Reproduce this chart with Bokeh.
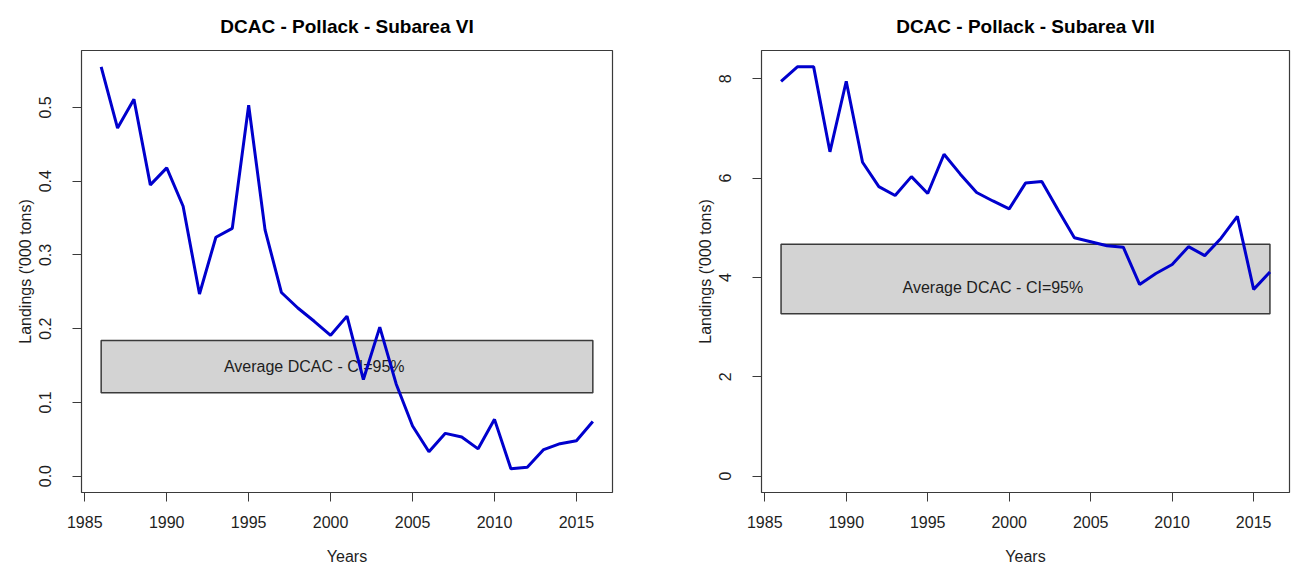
from bokeh.plotting import figure
from bokeh.layouts import row
from bokeh.models import Range1d, FixedTicker, NumeralTickFormatter
from bokeh.core.properties import value
from bokeh.embed import file_html
from bokeh.resources import INLINE

# ---- data ----
years = list(range(1986, 2017))
landings_vi = [0.555, 0.472, 0.511, 0.395, 0.418, 0.366, 0.247, 0.324, 0.336, 0.503,
               0.334, 0.249, 0.228, 0.210, 0.191, 0.217, 0.131, 0.202, 0.125, 0.068,
               0.033, 0.058, 0.053, 0.037, 0.077, 0.010, 0.012, 0.036, 0.044, 0.048, 0.074]
landings_vii = [7.95, 8.24, 8.24, 6.53, 7.95, 6.32, 5.83, 5.65, 6.03, 5.69,
                6.48, 6.08, 5.71, 5.54, 5.38, 5.90, 5.93, 5.36, 4.80, 4.72,
                4.64, 4.61, 3.86, 4.08, 4.26, 4.62, 4.44, 4.79, 5.23, 3.76, 4.11]
dcac_ci_vi = [0.113, 0.184]
dcac_ci_vii = [3.27, 4.67]
dcac_text_y_vi = 0.149
dcac_text_y_vii = 3.79
dcac_text_x = 1999
x_ticks = [1985, 1990, 1995, 2000, 2005, 2010, 2015]
y_ticks_vi = [0.0, 0.1, 0.2, 0.3, 0.4, 0.5]
y_ticks_vii = [0, 2, 4, 6, 8]
titles = ["DCAC - Pollack - Subarea VI", "DCAC - Pollack - Subarea VII"]
box_label = "Average DCAC - CI=95%"
x_label = "Years"
y_label = "Landings ('000 tons)"

FONT = "Liberation Sans"
TXT = "#1e1e1e"


def r_range(lo, hi):
    ext = (hi - lo) * 0.04
    return Range1d(lo - ext, hi + ext)


def make(title, ys, ylo, yhi, yticks, fmt, ci, text_y, width, mbl, mbr):
    p = figure(width=width, height=567,
               x_range=r_range(years[0], years[-1]),
               y_range=r_range(ylo, yhi),
               output_backend="svg", toolbar_location=None,
               min_border_left=mbl, min_border_right=mbr,
               min_border_top=50, min_border_bottom=73,
               title=title)
    p.grid.visible = False
    p.outline_line_color = "#3a3a3a"
    p.outline_line_width = 1.2
    p.background_fill_color = "white"
    p.border_fill_color = "white"

    p.title.align = "center"
    p.title.text_font = FONT
    p.title.text_font_size = "19px"
    p.title.text_font_style = "bold"
    p.title.text_color = "black"
    p.title.standoff = 27

    p.quad(left=[years[0]], right=[years[-1]], bottom=[ci[0]], top=[ci[1]],
           fill_color="#D3D3D3", line_color="#3a3a3a", line_width=1.5)
    p.text(x=[dcac_text_x], y=[text_y], text=[box_label],
           text_align="center", text_baseline="middle",
           text_font=value(FONT), text_font_size="16px", text_color=TXT)
    p.line(years, ys, line_width=3, line_color="#0000CD")

    xa = p.xaxis[0]
    xa.ticker = FixedTicker(ticks=x_ticks)
    xa.axis_line_color = None
    xa.major_tick_out = 9
    xa.major_tick_in = 0
    xa.minor_tick_line_color = None
    xa.major_tick_line_color = "#3a3a3a"
    xa.major_label_standoff = 14
    xa.major_label_text_font = FONT
    xa.major_label_text_font_size = "16px"
    xa.major_label_text_color = TXT
    xa.axis_label = x_label
    xa.axis_label_text_font = FONT
    xa.axis_label_text_font_size = "16px"
    xa.axis_label_text_font_style = "normal"
    xa.axis_label_text_color = TXT
    xa.axis_label_standoff = 17

    ya = p.yaxis[0]
    ya.ticker = FixedTicker(ticks=yticks)
    ya.formatter = NumeralTickFormatter(format=fmt)
    ya.axis_line_color = None
    ya.major_tick_out = 9
    ya.major_tick_in = 0
    ya.minor_tick_line_color = None
    ya.major_tick_line_color = "#3a3a3a"
    ya.major_label_orientation = "vertical"
    ya.major_label_standoff = 21
    ya.major_label_text_font = FONT
    ya.major_label_text_font_size = "16px"
    ya.major_label_text_color = TXT
    ya.axis_label = y_label
    ya.axis_label_text_font = FONT
    ya.axis_label_text_font_size = "16px"
    ya.axis_label_text_font_style = "normal"
    ya.axis_label_text_color = TXT
    ya.axis_label_standoff = 3
    return p


p1 = make(titles[0], landings_vi, 0, max(landings_vi), y_ticks_vi, "0.0",
          dcac_ci_vi, dcac_text_y_vi, 658, 81, 46)
p2 = make(titles[1], landings_vii, 0, max(landings_vii), y_ticks_vii, "0",
          dcac_ci_vii, dcac_text_y_vii, 635, 103, 4)

layout = row(p1, p2)
open("out.html", "w").write(file_html(layout, INLINE))
